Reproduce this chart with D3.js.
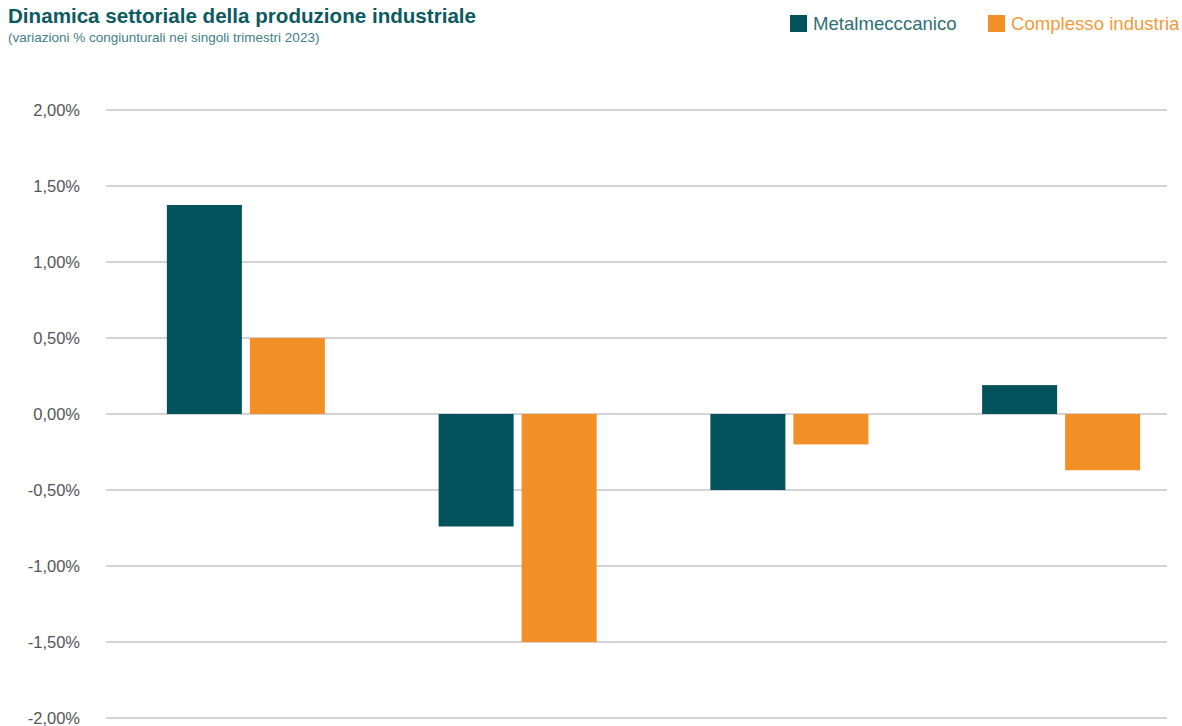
<!DOCTYPE html>
<html>
<head>
<meta charset="utf-8">
<script src="https://cdn.jsdelivr.net/npm/d3@7"></script>
<style>
  body { margin: 0; background: #fff; }
  svg { display: block; font-family: "Liberation Sans", Arial, sans-serif; }
</style>
</head>
<body>
<div id="chart"></div>
<script>
const quarters = ["I trim. 2023", "II trim. 2023", "III trim. 2023", "IV trim. 2023"];
const seriesNames = ["Metalmecccanico", "Complesso industria"];
const metalmeccanico = [1.375, -0.74, -0.50, 0.19];
const complessoIndustria = [0.50, -1.50, -0.20, -0.37];
const yTicks = [2, 1.5, 1, 0.5, 0, -0.5, -1, -1.5, -2];
const colors = ["#02535b", "#f29027"];
const legendTextColors = ["#2f6f75", "#f39a3c"];

const width = 1182, height = 726;

const svg = d3.select("#chart").append("svg")
    .attr("width", width)
    .attr("height", height);

// Scales
const y = d3.scaleLinear().domain([-2, 2]).range([718, 110]);

const x0 = d3.scaleBand()
    .domain(quarters)
    .range([110, 1197]);

const x1 = d3.scaleBand()
    .domain(seriesNames)
    .range([0, x0.bandwidth()])
    .paddingInner(0.0964)
    .paddingOuter(0.685);

// Gridlines
svg.append("g")
    .selectAll("line")
    .data(yTicks)
    .join("line")
    .attr("x1", 106)
    .attr("x2", 1167)
    .attr("y1", d => y(d))
    .attr("y2", d => y(d))
    .attr("stroke", "#c4c4c4")
    .attr("stroke-width", 1.5);

// Y tick labels (hyphen minus, comma decimal)
svg.append("g")
    .selectAll("text")
    .data(yTicks)
    .join("text")
    .attr("x", 80)
    .attr("y", d => y(d) + 6)
    .attr("text-anchor", "end")
    .attr("fill", "#555")
    .attr("font-size", 16.5)
    .text(d => d3.format(".2f")(d).replace(".", ",").replace("\u2212", "-") + "%");

// Bars
const data = quarters.map((q, i) => ({
    quarter: q,
    values: [
        { name: seriesNames[0], value: metalmeccanico[i] },
        { name: seriesNames[1], value: complessoIndustria[i] }
    ]
}));

const groups = svg.append("g")
    .selectAll("g")
    .data(data)
    .join("g")
    .attr("transform", d => `translate(${x0(d.quarter)},0)`);

groups.selectAll("rect")
    .data(d => d.values)
    .join("rect")
    .attr("x", d => x1(d.name))
    .attr("width", x1.bandwidth())
    .attr("y", d => y(Math.max(0, d.value)))
    .attr("height", d => Math.abs(y(d.value) - y(0)))
    .attr("fill", (d, i) => colors[i]);

// Title
svg.append("text")
    .attr("x", 8)
    .attr("y", 23)
    .attr("font-size", 20.6)
    .attr("font-weight", "bold")
    .attr("fill", "#0b5a60")
    .text("Dinamica settoriale della produzione industriale");

svg.append("text")
    .attr("x", 8)
    .attr("y", 42)
    .attr("font-size", 13.5)
    .attr("fill", "#3f8087")
    .text("(variazioni % congiunturali nei singoli trimestri 2023)");

// Legend
const legendX = [790, 988];
const legend = svg.append("g")
    .selectAll("g")
    .data(seriesNames)
    .join("g")
    .attr("transform", (d, i) => `translate(${legendX[i]},15)`);

legend.append("rect")
    .attr("width", 17)
    .attr("height", 17)
    .attr("fill", (d, i) => colors[i]);

legend.append("text")
    .attr("x", 23)
    .attr("y", 15)
    .attr("font-size", 18.6)
    .attr("fill", (d, i) => legendTextColors[i])
    .text(d => d);
</script>
</body>
</html>
